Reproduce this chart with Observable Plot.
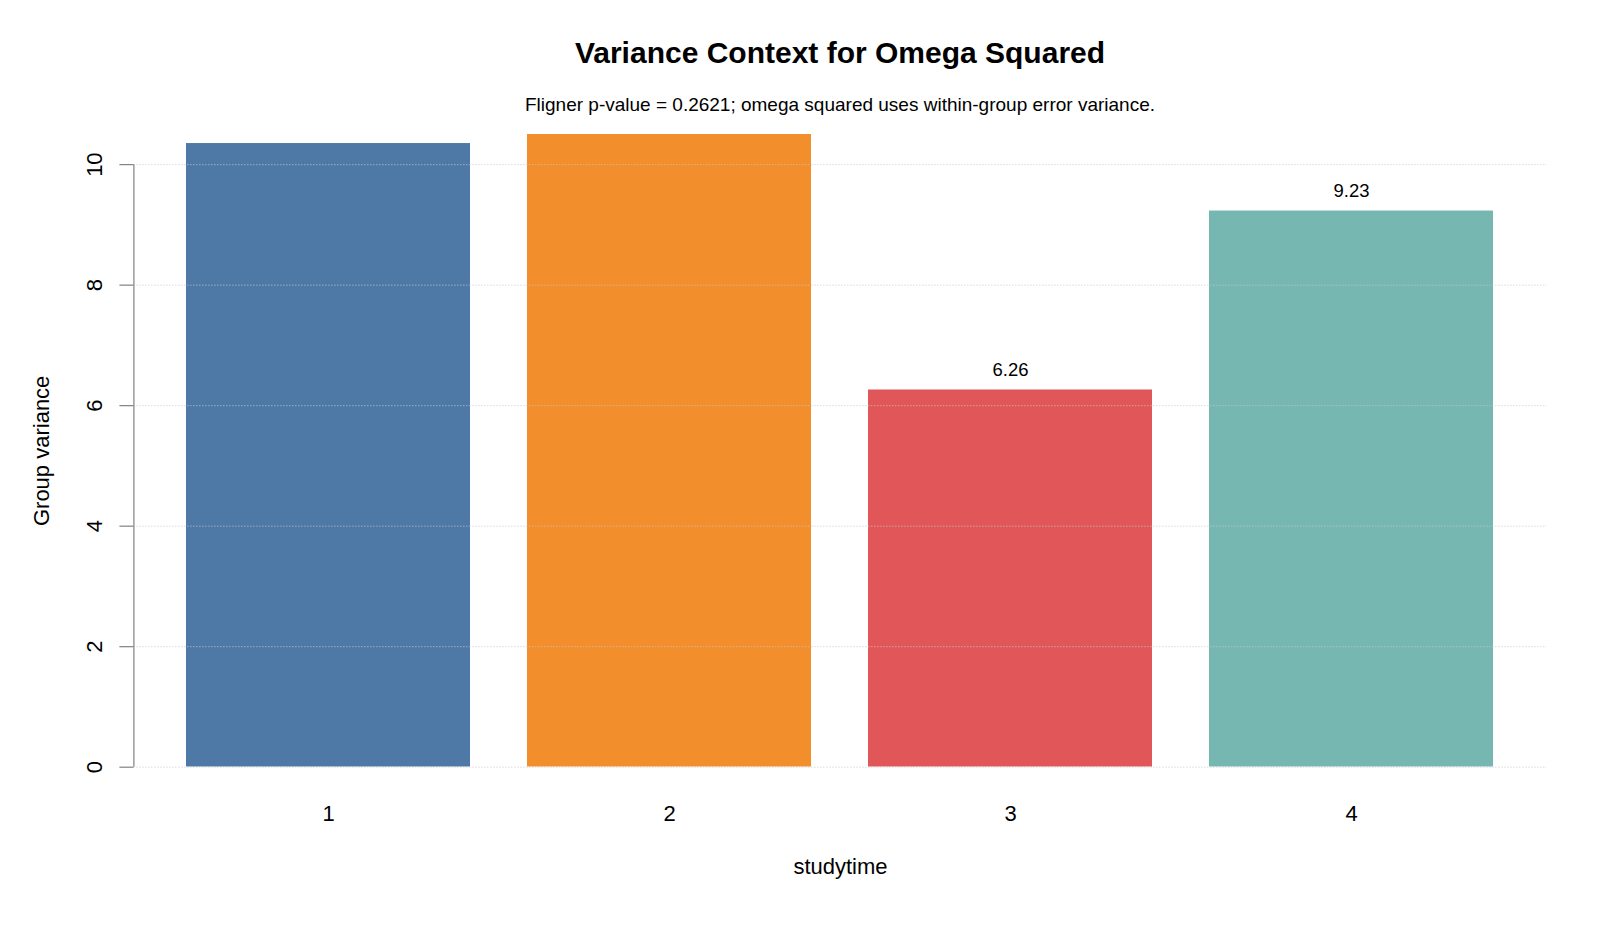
<!DOCTYPE html>
<html>
<head>
<meta charset="utf-8">
<script src="https://cdn.jsdelivr.net/npm/d3@7"></script>
<script src="https://cdn.jsdelivr.net/npm/@observablehq/plot@0.6"></script>
<style>
  html, body { margin: 0; padding: 0; background: #fff; }
  body { font-family: "Liberation Sans", Arial, sans-serif; }
  #wrap { width: 1600px; }
  #header { position: relative; height: 120px; width: 1600px; }
  #title { position: absolute; left: 133.4px; width: 1413.2px; top: 37px; line-height: 32px; text-align: center; font-size: 30px; font-weight: bold; color: #000; }
  #subtitle { position: absolute; left: 133.4px; width: 1413.2px; top: 94px; line-height: 22px; text-align: center; font-size: 19px; color: #000; }
  svg { display: block; }
</style>
</head>
<body>
<div id="wrap">
  <div id="header">
    <div id="title">Variance Context for Omega Squared</div>
    <div id="subtitle">Fligner p-value = 0.2621; omega squared uses within-group error variance.</div>
  </div>
  <div id="chart"></div>
</div>
<script>
// ---- data ----
const groups = ["1", "2", "3", "4"];
const variances = [10.35, 10.50, 6.26, 9.23];
const barColors = ["#4E79A7", "#F28E2B", "#E15759", "#76B7B2"];
const yTicks = [0, 2, 4, 6, 8, 10];
const xTitle = "studytime";
const yTitle = "Group variance";

const table = groups.map((g, i) => ({group: g, value: variances[i], color: barColors[i]}));

const W = 1600, H = 813;
const mL = 133.4, mR = 53.4, mT = 14, mB = 166.3;
const frameW = W - mL - mR;

const chart = Plot.plot({
  width: W,
  height: H,
  marginLeft: mL,
  marginRight: mR,
  marginTop: mT,
  marginBottom: mB,
  style: {fontFamily: "'Liberation Sans', Arial, sans-serif", color: "#000", background: "#fff"},
  x: {domain: groups, paddingInner: 0.2 / 1.2, paddingOuter: 0.153, label: null},
  y: {domain: [0, 10.5], label: null},
  marks: [
    Plot.barY(table, {x: "group", y: "value", fill: "color", clip: true}),
    Plot.gridY(yTicks, {stroke: "#c8c8c8", strokeOpacity: 1, strokeDasharray: "1,2", strokeWidth: 1}),
    Plot.text(table, {x: "group", y: "value", text: d => d.value.toFixed(2), dy: -20, fontSize: 18.5, fill: "#000", clip: true, lineAnchor: "middle", className: "bar-labels"}),
    // y axis line from first to last tick
    Plot.ruleX([{y1: yTicks[0], y2: yTicks[yTicks.length - 1]}], {x: null, y1: "y1", y2: "y2", dx: -frameW / 2, stroke: "#808080", strokeWidth: 1.2}),
    Plot.axisY({ticks: yTicks, tickSize: 14, tickFormat: () => "", stroke: "#808080", strokeWidth: 1.2, label: null}),
    Plot.text(yTicks, {y: d => d, text: d => String(d), frameAnchor: "left", dx: -39, rotate: -90, textAnchor: "middle", lineAnchor: "middle", fontSize: 22, fill: "#000"}),
    Plot.axisX({tickSize: 0, tickPadding: 38, fontSize: 22, label: null, fill: "#000"}),
    Plot.text([xTitle], {frameAnchor: "bottom", dy: 100, text: d => d, fontSize: 22, textAnchor: "middle", lineAnchor: "middle", fill: "#000"}),
    Plot.text([yTitle], {frameAnchor: "left", dx: -92, rotate: -90, text: d => d, fontSize: 22, textAnchor: "middle", lineAnchor: "middle", fill: "#000"})
  ]
});
document.getElementById("chart").appendChild(chart);

// Like the original plot region clipping: drop value labels that fall entirely outside the plotting frame
const svgTop = chart.getBoundingClientRect().top;
chart.querySelectorAll("g.bar-labels text").forEach(t => {
  const r = t.getBoundingClientRect();
  if (r.bottom - svgTop <= mT) t.remove();
});
</script>
</body>
</html>
